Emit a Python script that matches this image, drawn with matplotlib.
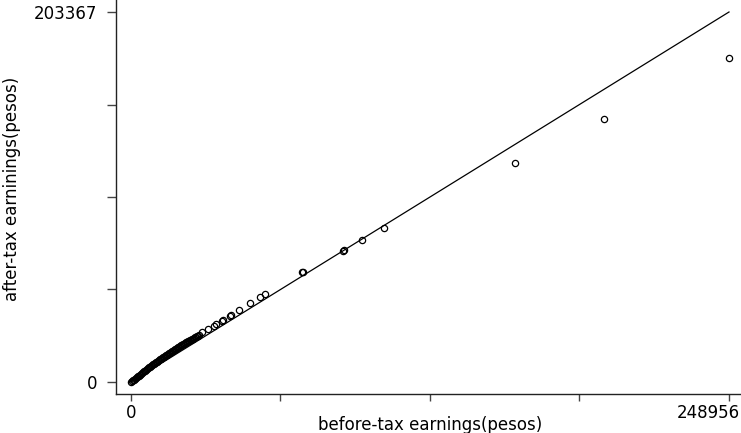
import matplotlib
matplotlib.use("Agg")
import matplotlib.pyplot as plt
from matplotlib.transforms import ScaledTranslation

# before-tax / after-tax earnings (pesos)
before_tax = [0, 416, 833, 1249, 1665, 2082, 2498, 2914, 3330, 3747, 4163, 4579,
              4996, 5412, 5828, 6245, 6661, 7077, 7493, 7910, 8326, 8742, 9159,
              9575, 9991, 10408, 10824, 11240, 11656, 12073, 12489, 12905, 13322,
              13738, 14154, 14571, 14987, 15403, 15819, 16236, 16652, 17068, 17485,
              17901, 18317, 18734, 19150, 19566, 19982, 20399, 20815, 21231, 21648,
              22064, 22480, 22897, 23313, 23729, 24145, 24562, 24978, 25394, 25811,
              26227, 26643, 27060, 27476, 27892, 28308,
              29433, 32180, 34348, 35260, 37883, 38425, 41214, 41630, 45085, 49665,
              53703, 55784, 71187, 71479, 88464, 88672, 96165, 105448, 159984,
              196785, 248956]
after_tax = [0, 440, 879, 1319, 1759, 2198, 2638, 3078, 3517, 3957, 4397, 4836,
             5331, 5771, 6211, 6650, 7090, 7530, 8024, 8464, 8904, 9343, 9783,
             10168, 10552, 10882, 11267, 11652, 12036, 12421, 12806, 13190, 13575,
             13960, 14290, 14674, 15059, 15444, 15828, 16213, 16543, 16928, 17312,
             17642, 18027, 18356, 18741, 19126, 19456, 19786, 20170, 20500, 20830,
             21160, 21434, 21764, 22039, 22369, 22644, 22973, 23248, 23578, 23853,
             24182, 24512, 24842, 25172, 25556, 25941,
             27645, 29129, 31052, 31712, 33636, 34075, 36438, 36713, 39571, 43254,
             46552, 48365, 60731, 60456, 72108, 72382, 77878, 84638, 120527,
             144709, 178070]

# reference line
line_x = [0, 248956]
line_y = [0, 203367]

x_max = 248956
y_max = 203367
x_ticks = [0, x_max / 4, x_max / 2, 3 * x_max / 4, x_max]
y_ticks = [0, y_max / 4, y_max / 2, 3 * y_max / 4, y_max]
x_labels = ["0", "", "", "", "248956"]
y_labels = ["0", "", "", "", "203367"]

plt.rcParams['font.family'] = ['DejaVu Sans']
fig = plt.figure(figsize=(7.41, 4.33), dpi=100)
ax = fig.add_axes([116 / 741, 39 / 433, 625 / 741, 394 / 433])

ax.plot(before_tax, after_tax, linestyle='none', marker='o', markersize=4.5,
        markerfacecolor='none', markeredgecolor='black', markeredgewidth=0.9)
ax.plot(line_x, line_y, color='black', linewidth=0.9)

ax.set_xlim(-6245, 253953)
ax.set_ylim(-6596, 209963)

ax.spines['top'].set_visible(False)
ax.spines['right'].set_visible(False)
for s in ['left', 'bottom']:
    ax.spines[s].set_color('#222222')
    ax.spines[s].set_linewidth(1.0)

ax.set_xticks(x_ticks)
ax.set_xticklabels(x_labels, fontsize=12)
ax.set_yticks(y_ticks)
ax.set_yticklabels(y_labels, fontsize=12)
ax.tick_params(axis='x', length=5.3, width=1, color='#444444', pad=2)
ax.tick_params(axis='y', length=6.7, width=1, color='#444444', pad=7)

# keep the last x label inside the figure
last = ax.get_xticklabels()[-1]
last.set_horizontalalignment('right')
last.set_transform(last.get_transform() + ScaledTranslation(11 / 100, 0, fig.dpi_scale_trans))

fig.text(430 / 741, 1 - 425 / 433, 'before-tax earnings(pesos)', fontsize=12,
         ha='center', va='center')
fig.text(12 / 741, 1 - 189 / 433, 'after-tax earninings(pesos)', fontsize=12,
         rotation=90, ha='center', va='center')

fig.savefig('out.png', dpi=100)
